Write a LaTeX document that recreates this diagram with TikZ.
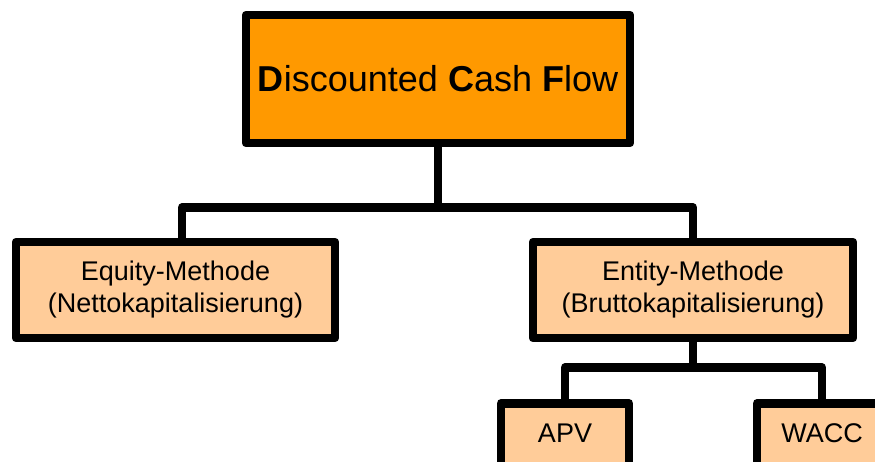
\documentclass[tikz,border=0pt]{standalone}
\usepackage{fontspec}
\setmainfont{Liberation Sans}
\definecolor{dcforange}{RGB}{255, 153, 0}
\definecolor{methpeach}{RGB}{255, 204, 153}
\usetikzlibrary{positioning}

\begin{document}
\begin{tikzpicture}[x=1pt, y=-1pt,
  box/.style={draw=black, line width=8.5pt, line join=round, align=center, inner sep=0pt},
  topbox/.style={box, fill=dcforange, minimum width=384pt, minimum height=128pt, font=\fontsize{36}{43}\selectfont},
  methbox/.style={box, fill=methpeach, minimum height=96pt, font=\fontsize{27}{32}\selectfont},
  leafbox/.style={box, fill=methpeach, anchor=north, text height=19pt, text depth=40pt, inner ysep=20pt, font=\fontsize{27}{32}\selectfont},
  link/.style={line width=8.5pt, line join=round}]
  \useasboundingbox (0,0) rectangle (875,461);

  % Top
  \node[topbox] (dcf) at (438,79) {\textbf{D}iscounted \textbf{C}ash \textbf{F}low};

  % Two methods
  \node[methbox, minimum width=319pt] (equity) at (175.5,290) {Equity-Methode\\(Nettokapitalisierung)};
  \node[methbox, minimum width=320pt] (entity) at (693,290) {Entity-Methode\\(Bruttokapitalisierung)};

  % Entity variants (cut at the bottom)
  \node[leafbox, minimum width=128pt] (apv) at (565,399) {APV};
  \node[leafbox, minimum width=130pt] (wacc) at (822,399) {WACC};

  % Connectors
  \coordinate (busone) at (438,207.5);
  \coordinate (equitytap) at (182,242);
  \coordinate (bustwo) at (693,367.5);

  \draw[link] (dcf.south) -- (busone);
  \draw[link] (equitytap) |- (busone) -| (entity.north);

  \draw[link] (entity.south) -- (bustwo);
  \draw[link] (apv.north) |- (bustwo) -| (wacc.north);
\end{tikzpicture}
\end{document}
